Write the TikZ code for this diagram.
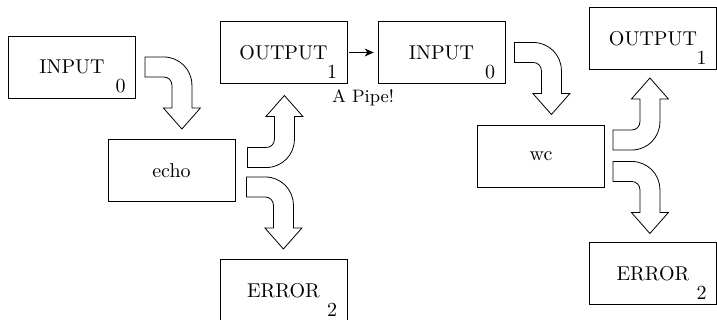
\documentclass[tikz,border=0pt]{standalone}
\usepackage{tikz}
\usetikzlibrary{
    positioning,
    arrows.meta,
    calc
}
\tikzset{
    stream/.style={draw, minimum width=63.5pt, minimum height=31pt, inner sep=0pt},
    sub/.style={anchor=south east, inner xsep=5pt, inner ysep=2.5pt},
    pics/bendarrow/.style={code={
        \draw (0,10) -- (19,10) arc[start angle=90, end angle=0, radius=28]
            -- (47,-41) -- (55.5,-41) -- (37,-62) -- (18.5,-41) -- (27,-41)
            -- (27,-18) arc[start angle=0, end angle=90, radius=8] -- (0,-10) -- cycle;
    }}
}
\begin{document}
\begin{tikzpicture}[x=0.5pt, y=0.5pt]
        \useasboundingbox (0,0) rectangle (717,-320);
        \clip (0,0) rectangle (717,-320);
        % echo の側
        \node[stream] (in0) at (72,-67) {INPUT};
        \node[sub] (in0sub) at (in0.south east) {0};
        \node[stream] (echo) at (171.5,-170.5) {echo};
        \node[stream] (out1) at (283.5,-52.5) {OUTPUT};
        \node[sub] (out1sub) at (out1.south east) {1};
        \node[stream] (err1) at (283.5,-290.5) {ERROR};
        \node[sub] (err1sub) at (err1.south east) {2};
        
        \pic at ($(in0.east)+(9,0)$) {bendarrow};
        \pic[yscale=-1] at ($(echo.east)+(12,13)$) {bendarrow};
        \pic at ($(echo.east)+(11,-16.5)$) {bendarrow};
        
        % パイプ
        \node[stream] (in2) at (441.5,-52.5) {INPUT};
        \node[sub] (in2sub) at (in2.south east) {0};
        \draw[-{Stealth[length=4.5pt, width=4pt]}, shorten <=1pt, shorten >=2pt] (out1) -- (in2);
        \node[font=\small] (pipe) at (363,-98) {A Pipe!};
        
        % wc の側
        \node[stream] (wc) at (541,-156) {wc};
        \node[stream] (out2) at (653,-38.5) {OUTPUT};
        \node[sub] (out2sub) at (out2.south east) {1};
        \node[stream] (err2) at (653,-273.5) {ERROR};
        \node[sub] (err2sub) at (err2.south east) {2};
        
        \pic at ($(in2.east)+(9,0)$) {bendarrow};
        \pic[yscale=-1] at ($(wc.east)+(8,16)$) {bendarrow};
        \pic at ($(wc.east)+(8,-15.5)$) {bendarrow};
    \end{tikzpicture}
\end{document}
